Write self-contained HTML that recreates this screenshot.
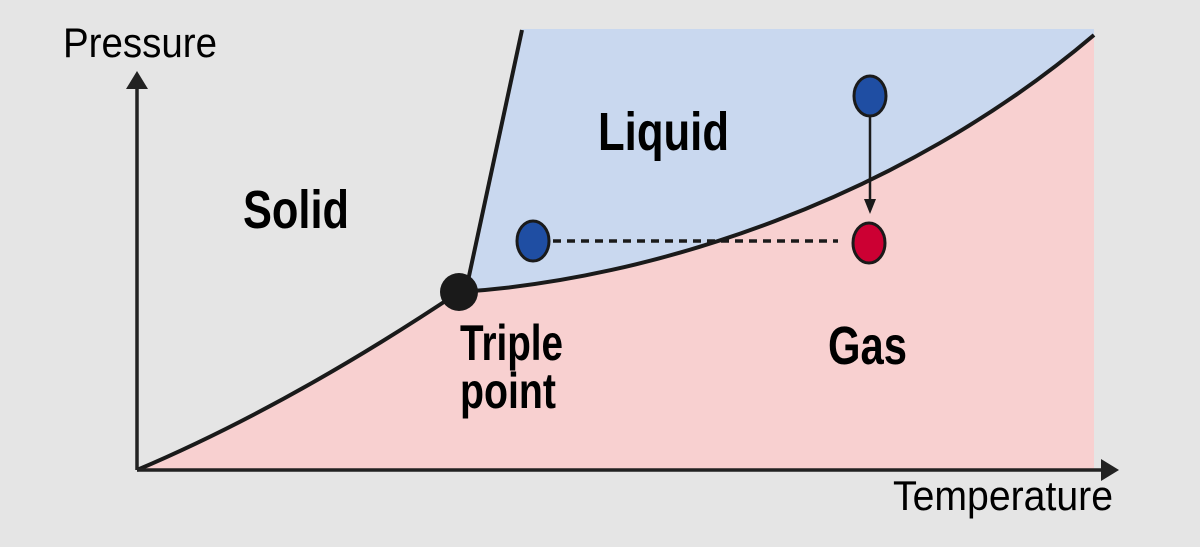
<!DOCTYPE html>
<html><head><meta charset="utf-8"><style>
html,body{margin:0;padding:0;background:#e5e5e5;}
svg{display:block;}
text{font-family:"Liberation Sans",sans-serif;fill:#000;}
</style></head><body>
<svg width="1200" height="547" viewBox="0 0 1200 547" xmlns="http://www.w3.org/2000/svg">
<rect width="1200" height="547" fill="#e5e5e5"/>
<path d="M522,29 L1094,29 L1094,35 C900,200 650,280 459,292 L466,290 Z" fill="#c9d8ef"/>
<path d="M137,470 Q290,405 459,292 C650,280 900,200 1094,35 L1094,470 Z" fill="#f8d0d0"/>
<path d="M137,470 Q290,405 459,292 C650,280 900,200 1094,35" fill="none" stroke="#1a1a1a" stroke-width="4"/>
<path d="M522,30 L466,290" fill="none" stroke="#1a1a1a" stroke-width="4"/>
<line x1="137" y1="470" x2="137" y2="88" stroke="#222" stroke-width="3.5"/>
<polygon points="137,71 126,89 148,89" fill="#222"/>
<line x1="137" y1="470" x2="1102" y2="470" stroke="#222" stroke-width="3.5"/>
<polygon points="1119,470 1101,459 1101,481" fill="#222"/>
<line x1="553" y1="241" x2="838" y2="241" stroke="#1a1a1a" stroke-width="3.5" stroke-dasharray="8,6"/>
<line x1="870" y1="115" x2="870" y2="200" stroke="#1a1a1a" stroke-width="2.5"/>
<polygon points="870,214 864,199 876,199" fill="#1a1a1a"/>
<circle cx="459" cy="292" r="19" fill="#1a1a1a"/>
<ellipse cx="533" cy="241" rx="16" ry="20" fill="#1f4ea3" stroke="#1a1a1a" stroke-width="3"/>
<ellipse cx="870" cy="96" rx="16" ry="20" fill="#1f4ea3" stroke="#1a1a1a" stroke-width="3"/>
<ellipse cx="869" cy="243" rx="16" ry="20" fill="#cc0033" stroke="#1a1a1a" stroke-width="3"/>
<text x="63" y="57" font-size="42" textLength="154" lengthAdjust="spacingAndGlyphs">Pressure</text>
<text x="243" y="228" font-size="54" font-weight="bold" textLength="106" lengthAdjust="spacingAndGlyphs">Solid</text>
<text x="598" y="150" font-size="54" font-weight="bold" textLength="131" lengthAdjust="spacingAndGlyphs">Liquid</text>
<text x="828" y="364" font-size="54" font-weight="bold" textLength="79" lengthAdjust="spacingAndGlyphs">Gas</text>
<text x="460" y="360" font-size="50" font-weight="bold" textLength="103" lengthAdjust="spacingAndGlyphs">Triple</text>
<text x="460" y="408" font-size="50" font-weight="bold" textLength="96" lengthAdjust="spacingAndGlyphs">point</text>
<text x="893" y="510" font-size="42" textLength="220" lengthAdjust="spacingAndGlyphs">Temperature</text>
</svg>
</body></html>
